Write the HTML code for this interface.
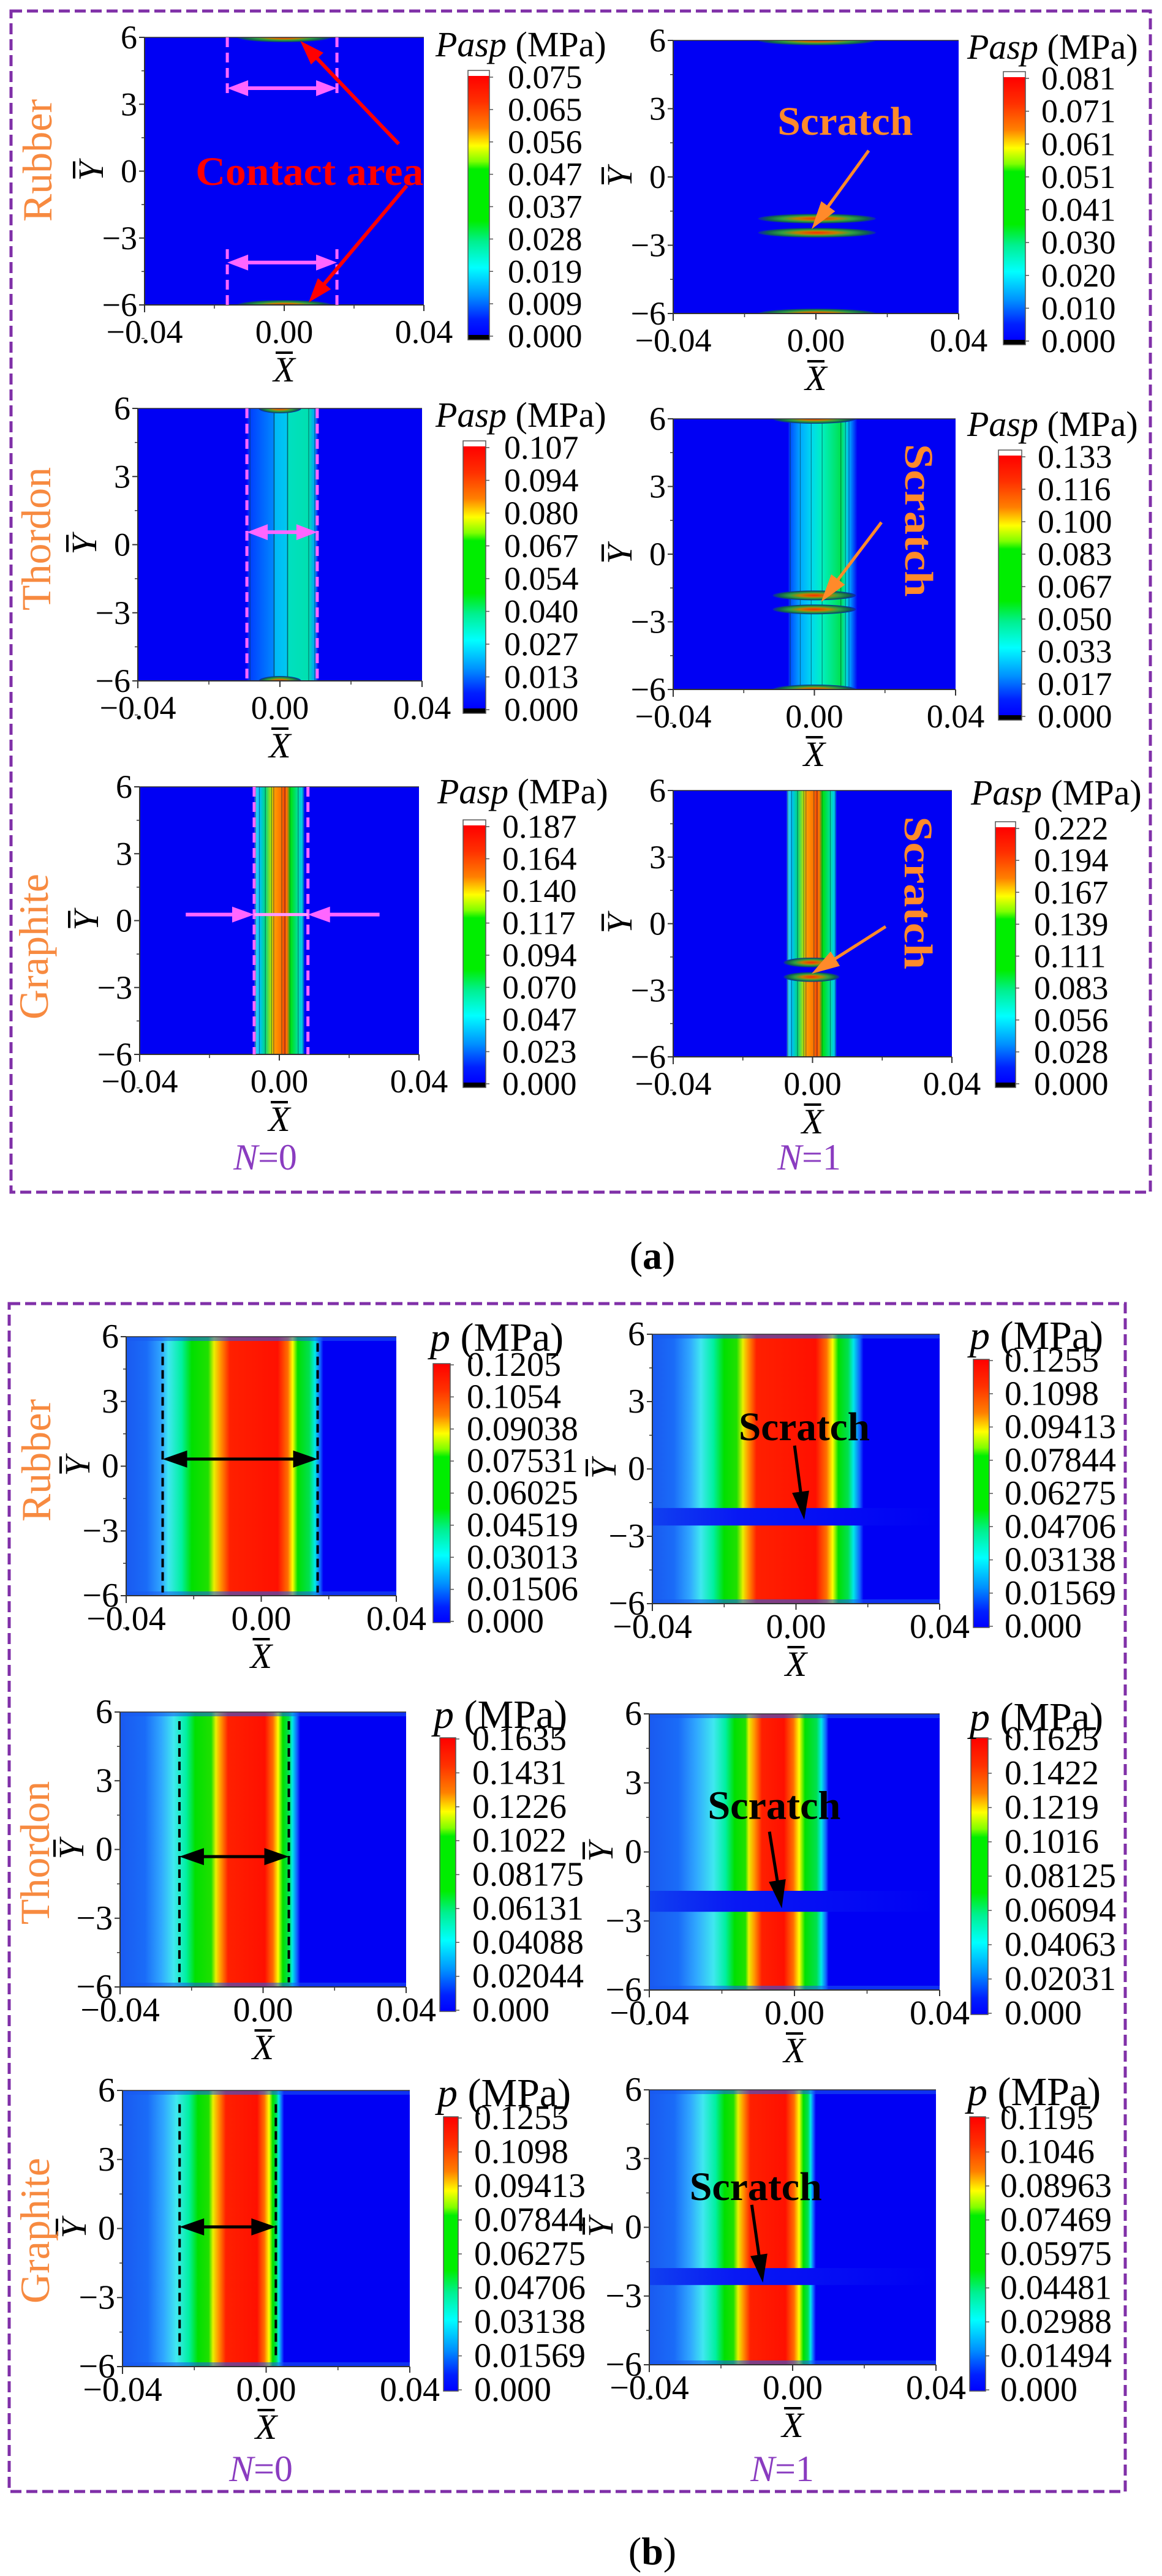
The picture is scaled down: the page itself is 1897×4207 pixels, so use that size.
<!DOCTYPE html>
<html><head><meta charset="utf-8"><title>Pasp and p contour comparison</title>
<style>
html,body{margin:0;padding:0;background:#fff;}
svg{display:block;font-family:"Liberation Serif","Times New Roman",Times,serif;}
svg text{font-family:"Liberation Serif","Times New Roman",Times,serif;}
</style></head>
<body>
<svg id="fig" xmlns="http://www.w3.org/2000/svg" width="1897" height="4207" viewBox="0 0 1897 4207" font-family="Liberation Serif, Times New Roman, serif">
<defs id="defs">
<radialGradient id="ellG" cx="0.5" cy="0.5" r="0.5">
<stop offset="0" stop-color="#ff2a00"/><stop offset="0.35" stop-color="#c08000"/><stop offset="0.6" stop-color="#30a040"/><stop offset="0.85" stop-color="#106050"/><stop offset="1" stop-color="#0a20c0"/>
</radialGradient>
<linearGradient id="jetA" x1="0" y1="0" x2="0" y2="1">
<stop offset="0" stop-color="#ff0000"/><stop offset="0.1" stop-color="#ff3000"/><stop offset="0.2" stop-color="#ff8000"/><stop offset="0.27" stop-color="#ffff00"/><stop offset="0.33" stop-color="#80ff00"/><stop offset="0.36" stop-color="#00ee00"/><stop offset="0.56" stop-color="#00ee00"/><stop offset="0.64" stop-color="#00f090"/><stop offset="0.74" stop-color="#00ffff"/><stop offset="0.85" stop-color="#0090ff"/><stop offset="0.94" stop-color="#0020ff"/><stop offset="1" stop-color="#0000ff"/>
</linearGradient>
<linearGradient id="gapG" x1="0" y1="0" x2="1" y2="0">
<stop offset="0" stop-color="#1040f0"/><stop offset="0.3" stop-color="#0818f4"/><stop offset="1" stop-color="#0000f4"/>
</linearGradient>
</defs>
</svg>
<script>
// ---------- data ----------
const xTickValues = [-0.04, 0, 0.04];
const xTickLabels = ['\u22120.04', '0.00', '0.04'];
const yTickValues = [6, 3, 0, -3, -6];
const yTickLabels = ['6', '3', '0', '\u22123', '\u22126'];

const cbA1L = ['0.075','0.065','0.056','0.047','0.037','0.028','0.019','0.009','0.000'];
const cbA1R = ['0.081','0.071','0.061','0.051','0.041','0.030','0.020','0.010','0.000'];
const cbA2L = ['0.107','0.094','0.080','0.067','0.054','0.040','0.027','0.013','0.000'];
const cbA2R = ['0.133','0.116','0.100','0.083','0.067','0.050','0.033','0.017','0.000'];
const cbA3L = ['0.187','0.164','0.140','0.117','0.094','0.070','0.047','0.023','0.000'];
const cbA3R = ['0.222','0.194','0.167','0.139','0.111','0.083','0.056','0.028','0.000'];
const cbB1L = ['0.1205','0.1054','0.09038','0.07531','0.06025','0.04519','0.03013','0.01506','0.000'];
const cbB1R = ['0.1255','0.1098','0.09413','0.07844','0.06275','0.04706','0.03138','0.01569','0.000'];
const cbB2L = ['0.1635','0.1431','0.1226','0.1022','0.08175','0.06131','0.04088','0.02044','0.000'];
const cbB2R = ['0.1625','0.1422','0.1219','0.1016','0.08125','0.06094','0.04063','0.02031','0.000'];
const cbB3L = ['0.1255','0.1098','0.09413','0.07844','0.06275','0.04706','0.03138','0.01569','0.000'];
const cbB3R = ['0.1195','0.1046','0.08963','0.07469','0.05975','0.04481','0.02988','0.01494','0.000'];

const bandA2L = [-0.0095,-0.0084,-0.0017,-0.0016,0.0021,0.0022,0.0081,0.0098,0.0108];
const bandA2R = [-0.0075,-0.0068,-0.004,-0.0009,0.0022,0.0075,0.0088,0.0098,0.0122];
const bandA3L = [-0.0072,-0.0068,-0.0057,-0.004,-0.0022,-0.0016,0.0007,0.0016,0.0025,0.003,0.0054,0.0068,0.0072];
const bandA3R = [-0.0075,-0.0071,-0.006,-0.0043,-0.0025,-0.0019,0.0004,0.0013,0.0022,0.0027,0.0051,0.0065,0.0069];
const profB1L = [-0.04,-0.0339,-0.0295,-0.0275,-0.0236,-0.0206,-0.0157,-0.014,-0.0123,-0.0093,0.0049,0.0079,0.0093,0.0108,0.0142,0.0159,0.0175,0.0184];
const profB1R = [-0.04,-0.034,-0.0295,-0.0265,-0.023,-0.02,-0.0165,-0.0148,-0.0135,-0.011,0.0055,0.0085,0.0102,0.0118,0.0145,0.016,0.0178,0.0188];
const profB2L = [-0.04,-0.033,-0.0285,-0.025,-0.0215,-0.019,-0.0145,-0.0132,-0.012,-0.0098,0.0005,0.0028,0.0042,0.0055,0.0072,0.0082,0.0095,0.0104];
const profB2R = [-0.04,-0.032,-0.027,-0.0223,-0.019,-0.0165,-0.0135,-0.0126,-0.0112,-0.009,-0.0029,-0.0003,0.0013,0.0029,0.0061,0.0074,0.0087,0.0094];
const profB3L = [-0.04,-0.033,-0.0285,-0.025,-0.0215,-0.019,-0.016,-0.0148,-0.0135,-0.0112,-0.0025,-0.0005,0.0008,0.0018,0.0028,0.0035,0.0043,0.005];
const profB3R = [-0.04,-0.033,-0.0285,-0.025,-0.0215,-0.019,-0.0165,-0.0152,-0.014,-0.0118,-0.002,0.0004,0.0018,0.003,0.0043,0.005,0.0058,0.0065];

const gapB1R = [-1.74, -2.52];
const gapB2R = [-1.69, -2.6];
const gapB3R = [-1.78, -2.52];
const gapA3R = [-1.75, -2.4];
const ellA1L = [[0, 6], [0, -6]];
const ellA1R = [[0.0003, 6], [0.0003, -1.83], [0.0003, -2.45], [0.0003, -6]];
const ellA2L = [[0, 6], [0, -6]];
const ellA2R = [[0, 6], [0, -1.83], [0, -2.45], [0, -6]];
const ellA3R = [[-0.0003, -1.75], [-0.0003, -2.4]];

const colA2L = ['#0000f4','#0040ff','#0088ff','#00b8f8','#00c8f0','#00e0c0','#00e0b0','#00a0ff','#0000f4'];
const colA2R = ['#0000f4','#0050ff','#00a8ff','#00d8f0','#00f0c0','#00e050','#00e0c0','#00b0ff','#0000f4'];
const colA3 = ['#0000f4','#40d0f0','#00c0ff','#00d880','#c0e000','#ffa000','#ff7000','#ff4000','#ffa000','#00e000','#00e0a0','#00c0ff','#0000f4'];
const colB = ['#1a5af0','#1a6cf8','#30a8ff','#40e8f0','#00f0a0','#00e000','#20e000','#e8f000','#ffa000','#ff2000','#ff1000','#ff7000','#ffff00','#00e000','#00e050','#00e8e8','#1060ff','#0000f4'];

const NS = 'http://www.w3.org/2000/svg';
const svg = document.getElementById('fig');
const defs = document.getElementById('defs');
const FONT = "Liberation Serif, Times New Roman, serif";
function el(tag, attrs, parent) {
  const e = document.createElementNS(NS, tag);
  for (const k in attrs) e.setAttribute(k, attrs[k]);
  if (tag === 'text') e.setAttribute('font-family', FONT);
  (parent || svg).appendChild(e);
  return e;
}
function arrowHead(g, x1, y1, x2, y2, color, len, wid) {
  const dx = x2 - x1, dy = y2 - y1, L = Math.hypot(dx, dy), ux = dx / L, uy = dy / L;
  const bx = x2 - ux * len, by = y2 - uy * len;
  return el('polygon', {points: `${x2},${y2} ${bx - uy * wid},${by + ux * wid} ${bx + uy * wid},${by - ux * wid}`, fill: color}, g);
}
function arrow(g, x1, y1, x2, y2, color, sw, len, wid, both) {
  const dx = x2 - x1, dy = y2 - y1, L = Math.hypot(dx, dy), ux = dx / L, uy = dy / L;
  const sx = both ? x1 + ux * len * 0.8 : x1, sy = both ? y1 + uy * len * 0.8 : y1;
  el('line', {x1: sx, y1: sy, x2: x2 - ux * len * 0.8, y2: y2 - uy * len * 0.8, stroke: color, 'stroke-width': sw}, g);
  arrowHead(g, x1, y1, x2, y2, color, len, wid);
  if (both) arrowHead(g, x2, y2, x1, y1, color, len, wid);
}

const panels = [
 {key:'a-rubber-n0', part:'a', px:236, py:61, pw:456, ph:437, cb:[764,115,35,440], lx:829, tx:711, ty:92, labels:cbA1L, ell:ellA1L, erx:0.0135},
 {key:'a-rubber-n1', part:'a', px:1099, py:66, pw:466, ph:446, cb:[1638,117,36,446], lx:1700, tx:1579, ty:96, labels:cbA1R, ell:ellA1R, erx:0.0165},
 {key:'a-thordon-n0', part:'a', px:225, py:667, pw:464, ph:445, cb:[756,720,37,445], lx:823, tx:711, ty:697, labels:cbA2L, band:bandA2L, bcol:colA2L, ell:ellA2L, erx:0.006},
 {key:'a-thordon-n1', part:'a', px:1099, py:684, pw:461, ph:442, cb:[1630,735,38,441], lx:1694, tx:1579, ty:712, labels:cbA2R, band:bandA2R, bcol:colA2R, ell:ellA2R, erx:0.0118},
 {key:'a-graphite-n0', part:'a', px:228, py:1285, pw:456, ph:437, cb:[756,1339,37,437], lx:820, tx:714, ty:1312, labels:cbA3L, band:bandA3L, bcol:colA3},
 {key:'a-graphite-n1', part:'a', px:1099, py:1291, pw:455, ph:435, cb:[1625,1342,33,434], lx:1688, tx:1585, ty:1314, labels:cbA3R, band:bandA3R, bcol:colA3, gap:gapA3R, ell:ellA3R, erx:0.008},
 {key:'b-rubber-n0', part:'b', px:206, py:2183, pw:441, ph:423, cb:[707,2227,28,423], lx:762, tx:702, ty:2206, labels:cbB1L, prof:profB1L},
 {key:'b-rubber-n1', part:'b', px:1065, py:2179, pw:469, ph:440, cb:[1589,2220,26,438], lx:1640, tx:1583, ty:2203, labels:cbB1R, prof:profB1R, gap:gapB1R},
 {key:'b-thordon-n0', part:'b', px:196, py:2796, pw:467, ph:449, cb:[718,2838,26,447], lx:771, tx:708, ty:2822, labels:cbB2L, prof:profB2L},
 {key:'b-thordon-n1', part:'b', px:1060, py:2799, pw:474, ph:451, cb:[1585,2838,28,452], lx:1640, tx:1583, ty:2826, labels:cbB2R, prof:profB2R, gap:gapB2R},
 {key:'b-graphite-n0', part:'b', px:200, py:3414, pw:469, ph:451, cb:[724,3457,24,448], lx:774, tx:714, ty:3440, labels:cbB3L, prof:profB3L},
 {key:'b-graphite-n1', part:'b', px:1060, py:3413, pw:468, ph:449, cb:[1583,3457,26,448], lx:1633, tx:1579, ty:3438, labels:cbB3R, prof:profB3R, gap:gapB3R}
];

const notes = {
 'a-rubber-n0': {pink:[-0.0163,0.0151], pinkSeg:[[6,3.4],[-3.5,-6]], pinkArrowY:[3.72,-4.1], red:[[0.0328,1.22,0.0046,5.84],[0.0351,-0.65,0.007,-5.89]], contact:[-0.0254,-0.02]},
 'a-rubber-n1': {scratch:{x:0.0082,y:1.86,rot:0,color:'#ff8a2a',w:221}, sarrow:[0.0148,1.16,-0.0012,-2.29]},
 'a-thordon-n0': {pink:[-0.0093,0.0105], pinkSeg:[[6,-6]], pinkArrowY:[0.55]},
 'a-thordon-n1': {scratch:{x:0.0258,y:1.5,rot:90,color:'#ff8a2a',w:250}, sarrow:[0.019,1.41,0.0019,-2.12]},
 'a-graphite-n0': {pink:[-0.0072,0.0082], pinkSeg:[[6,-6]], pinkIn:[0.27,-0.0268,0.0287]},
 'a-graphite-n1': {scratch:{x:0.0265,y:1.39,rot:90,color:'#ff8a2a',w:250}, sarrow:[0.021,-0.13,-0.0003,-2.26]},
 'b-rubber-n0': {dash:[-0.0292,0.0167], dashY:[5.7,-5.85], arrY:0.33},
 'b-rubber-n1': {scratch:{x:0.0023,y:1.28,rot:0,color:'#000',w:214}, sarrow:[-0.0004,1.04,0.0023,-2.26]},
 'b-thordon-n0': {dash:[-0.0234,0.0072], dashY:[5.6,-5.8], arrY:-0.31},
 'b-thordon-n1': {scratch:{x:-0.0056,y:1.44,rot:0,color:'#000',w:217}, sarrow:[-0.0069,0.88,-0.0035,-2.45]},
 'b-graphite-n0': {dash:[-0.0241,0.0027], dashY:[5.4,-5.6], arrY:0.07},
 'b-graphite-n1': {scratch:{x:-0.0103,y:1.19,rot:0,color:'#000',w:216}, sarrow:[-0.0114,0.98,-0.0083,-2.42]}
};

panels.forEach((P, i) => {
  const xs = X => P.px + (X + 0.04) / 0.08 * P.pw;
  const ys = Y => P.py + (6 - Y) / 12 * P.ph;
  const g = el('g', {});
  
  
  const clip = el('clipPath', {id: 'clip' + i}, defs);
  el('rect', {x: P.px, y: P.py, width: P.pw, height: P.ph}, clip);
  const field = el('g', {'clip-path': `url(#clip${i})`}, g);
  
  

  if (P.part === 'a') {
    el('rect', {x: P.px, y: P.py, width: P.pw, height: P.ph, fill: '#0000f4'}, field);
    if (P.band) {
      const lg = el('linearGradient', {id: 'band' + i, gradientUnits: 'userSpaceOnUse', x1: P.px, y1: 0, x2: P.px + P.pw, y2: 0}, defs);
      P.band.forEach((X, k) => el('stop', {offset: (X + 0.04) / 0.08, 'stop-color': P.bcol[k]}, lg));
      const b = el('rect', {x: xs(P.band[0]), y: P.py, width: xs(P.band[P.band.length - 1]) - xs(P.band[0]), height: P.ph, fill: `url(#band${i})`}, field);
      
      
      P.band.slice(1, -1).forEach(X => el('line', {x1: xs(X), y1: P.py, x2: xs(X), y2: P.py + P.ph, stroke: '#0a3040', 'stroke-width': 1.2, 'stroke-opacity': 0.55}, field));
    }
    if (P.gap) {
      const r = el('rect', {x: P.px, y: ys(P.gap[0]), width: P.pw, height: ys(P.gap[1]) - ys(P.gap[0]), fill: '#0000f4'}, field);
      
      
    }
    (P.ell || []).forEach(e => {
      const o = el('ellipse', {cx: xs(e[0]), cy: ys(e[1]), rx: (P.erx || 0.012) / 0.08 * P.pw, ry: 8, fill: 'url(#ellG)'}, field);
      
      
    });
  } else {
    const lg = el('linearGradient', {id: 'prof' + i, gradientUnits: 'userSpaceOnUse', x1: P.px, y1: 0, x2: P.px + P.pw, y2: 0}, defs);
    P.prof.forEach((X, k) => el('stop', {offset: (X + 0.04) / 0.08, 'stop-color': colB[k]}, lg));
    el('rect', {x: P.px, y: P.py, width: P.pw, height: P.ph, fill: '#0000f4'}, field);
    const b = el('rect', {x: P.px, y: P.py, width: P.pw, height: P.ph, fill: `url(#prof${i})`}, field);
    
    
    el('rect', {x: P.px, y: P.py, width: P.pw, height: 7, fill: '#1a5af0', 'fill-opacity': 0.55}, field);
    el('rect', {x: P.px, y: P.py + P.ph - 7, width: P.pw, height: 7, fill: '#1a5af0', 'fill-opacity': 0.55}, field);
    if (P.gap) {
      const r = el('rect', {x: P.px, y: ys(P.gap[0]), width: P.pw, height: ys(P.gap[1]) - ys(P.gap[0]), fill: 'url(#gapG)'}, field);
      
      
    }
  }

  el('line', {x1: P.px, y1: P.py, x2: P.px, y2: P.py + P.ph + 12, stroke: '#333', 'stroke-width': 2}, g);
  el('line', {x1: P.px, y1: P.py + P.ph, x2: P.px + P.pw, y2: P.py + P.ph, stroke: '#333', 'stroke-width': 2}, g);
  el('line', {x1: P.px, y1: P.py, x2: P.px + P.pw, y2: P.py, stroke: '#333', 'stroke-width': 1.5}, g);
  const fs = P.part === 'a' ? 54 : 56;
  yTickValues.forEach((v, k) => {
    el('line', {x1: P.px - 9, y1: ys(v), x2: P.px, y2: ys(v), stroke: '#333', 'stroke-width': 2}, g);
    el('line', {x1: P.px - 5, y1: ys(v - 1.5), x2: P.px, y2: ys(v - 1.5), stroke: '#333', 'stroke-width': 1.5}, g);
    const t = el('text', {x: P.px - 12, y: ys(v) + 18, 'font-size': fs, 'text-anchor': 'end'}, g);
    
    
    t.textContent = yTickLabels[k];
  });
  xTickValues.forEach((v, k) => {
    el('line', {x1: xs(v), y1: P.py + P.ph, x2: xs(v), y2: P.py + P.ph + 10, stroke: '#333', 'stroke-width': 2}, g);
    if (k < 2) el('line', {x1: xs(v + 0.02), y1: P.py + P.ph, x2: xs(v + 0.02), y2: P.py + P.ph + 6, stroke: '#333', 'stroke-width': 1.5}, g);
    const t = el('text', {x: xs(v), y: P.py + P.ph + (P.part === 'a' ? 62 : 56), 'font-size': fs, 'text-anchor': 'middle'}, g);
    
    
    t.textContent = xTickLabels[k];
  });
  const xl = el('g', {}, g);
  
  
  const xb = P.py + P.ph + (P.part === 'a' ? 125 : 118);
  const xt = el('text', {x: xs(0), y: xb, 'font-size': 58, 'font-style': 'italic', 'text-anchor': 'middle'}, xl);
  xt.textContent = 'X';
  el('line', {x1: xs(0) - 14, y1: xb - 47, x2: xs(0) + 14, y2: xb - 47, stroke: '#000', 'stroke-width': 4}, xl);
  const yl = el('g', {transform: `translate(${P.px - (P.part === 'a' ? 86 : 78)},${ys(0)}) rotate(-90)`}, g);
  
  
  const yt = el('text', {x: 0, y: 18, 'font-size': 58, 'font-style': 'italic', 'text-anchor': 'middle'}, yl);
  yt.textContent = 'Y';
  el('line', {x1: -12, y1: -29, x2: 16, y2: -29, stroke: '#000', 'stroke-width': 4}, yl);

  const [cx, cy, cw, ch] = P.cb;
  const cbg = el('g', {}, g);
  
  
  const capT = P.part === 'a' ? 9 : 0, capB = P.part === 'a' ? 8 : 0;
  el('rect', {x: cx, y: cy + capT, width: cw, height: ch - capT - capB, fill: 'url(#jetA)'}, cbg);
  if (P.part === 'a') {
    el('rect', {x: cx, y: cy, width: cw, height: capT, fill: '#fff'}, cbg);
    el('rect', {x: cx, y: cy + ch - capB, width: cw, height: capB, fill: '#000'}, cbg);
  }
  el('rect', {x: cx, y: cy, width: cw, height: ch, fill: 'none', stroke: '#555', 'stroke-width': 1.5}, cbg);
  const top = cy + capT + 2, bot = cy + ch - capB / 2 - 2;
  P.labels.forEach((lab, k) => {
    const yy = top + (bot - top) * k / (P.labels.length - 1);
    el('line', {x1: cx + cw, y1: yy, x2: cx + cw + 6, y2: yy, stroke: '#555', 'stroke-width': 1.5}, cbg);
    const t = el('text', {x: P.lx, y: yy + 18, 'font-size': fs}, cbg);
    
    
    t.textContent = lab;
  });
  const title = el('text', {x: P.tx, y: P.ty, 'font-size': P.part === 'a' ? 58 : 66}, cbg);
  
  
  const ti = el('tspan', {'font-style': 'italic'}, title);
  ti.textContent = P.part === 'a' ? 'Pasp' : 'p';
  const tr = el('tspan', {}, title);
  tr.textContent = ' (MPa)';

  const N = notes[P.key];
  const an = el('g', {}, g);
  
  
  if (N.pink) {
    N.pink.forEach(X => N.pinkSeg.forEach(s => el('line', {x1: xs(X), y1: ys(s[0]), x2: xs(X), y2: ys(s[1]), stroke: '#ff66ff', 'stroke-width': 5, 'stroke-dasharray': '16 9'}, an)));
    (N.pinkArrowY || []).forEach(Y => arrow(an, xs(N.pink[0]), ys(Y), xs(N.pink[1]), ys(Y), '#ff66ff', 6, 34, 13, true));
    if (N.pinkIn) {
      const Y = N.pinkIn[0];
      arrow(an, xs(N.pinkIn[1]), ys(Y), xs(N.pink[0]), ys(Y), '#ff66ff', 6, 36, 13, false);
      arrow(an, xs(N.pinkIn[2]), ys(Y), xs(N.pink[1]), ys(Y), '#ff66ff', 6, 36, 13, false);
      el('line', {x1: xs(N.pink[0]), y1: ys(Y), x2: xs(N.pink[1]), y2: ys(Y), stroke: '#ff99ff', 'stroke-width': 5}, an);
    }
  }
  if (N.red) N.red.forEach(r => arrow(an, xs(r[0]), ys(r[1]), xs(r[2]), ys(r[3]), '#ff0000', 6, 40, 14, false));
  if (N.contact) {
    const t = el('text', {x: xs(N.contact[0]), y: ys(N.contact[1]) + 22, 'font-size': 66, 'font-weight': 'bold', fill: '#ff0000', textLength: 372, lengthAdjust: 'spacingAndGlyphs'}, an);
    
    
    t.textContent = 'Contact area';
  }
  if (N.dash) {
    N.dash.forEach(X => el('line', {x1: xs(X), y1: ys(N.dashY[0]), x2: xs(X), y2: ys(N.dashY[1]), stroke: '#000', 'stroke-width': 4, 'stroke-dasharray': '14 8'}, an));
    arrow(an, xs(N.dash[0]), ys(N.arrY), xs(N.dash[1]), ys(N.arrY), '#000', 5, 40, 14, true);
  }
  if (N.scratch) {
    const S = N.scratch;
    const sx = xs(S.x), sy = ys(S.y);
    const t = el('text', {x: sx, y: sy, 'font-size': 66, 'font-weight': 'bold', fill: S.color, 'text-anchor': 'middle', textLength: S.w, lengthAdjust: 'spacingAndGlyphs', transform: S.rot ? `rotate(90 ${sx} ${sy})` : ''}, an);
    
    
    t.textContent = 'Scratch';
    const a = N.sarrow;
    arrow(an, xs(a[0]), ys(a[1]), xs(a[2]), ys(a[3]), S.color === '#000' ? '#000' : '#ff8a2a', 5, 46, 14, false);
  }
});

function label(txt, x, y, opts) {
  const t = el('text', Object.assign({x: x, y: y}, opts));
  t.textContent = txt;
  return t;
}
const boxA = el('rect', {x: 18, y: 18, width: 1860, height: 1929, fill: 'none', stroke: '#8030a8', 'stroke-width': 5, 'stroke-dasharray': '18 8'});


const boxB = el('rect', {x: 15, y: 2129, width: 1822, height: 1940, fill: 'none', stroke: '#8030a8', 'stroke-width': 5, 'stroke-dasharray': '18 8'});



const mats = [['Rubber', 62, 262], ['Thordon', 60, 880], ['Graphite', 56, 1546], ['Rubber', 60, 2385], ['Thordon', 58, 3026], ['Graphite', 58, 3643]];
mats.forEach(m => {
  const t = label(m[0], m[1], m[2], {'font-size': 68, fill: '#f78a40', 'text-anchor': 'middle', transform: `rotate(-90 ${m[1]} ${m[2]})`, dy: 22});
  
  
});
const nlabs = [['0', 433, 1910], ['1', 1321, 1910], ['0', 426, 4052], ['1', 1277, 4052]];
nlabs.forEach(n => {
  const t = label('', n[1], n[2], {'font-size': 60, fill: '#8a3cc0', 'text-anchor': 'middle'});
  
  
  const a = el('tspan', {'font-style': 'italic'}, t); a.textContent = 'N';
  const b = el('tspan', {}, t); b.textContent = '=' + n[0];
});
[['a', 2072], ['b', 4188]].forEach(c => {
  const t = label('', 1065, c[1], {'font-size': 64, 'text-anchor': 'middle'});
  
  
  const p1 = el('tspan', {}, t); p1.textContent = '(';
  const p2 = el('tspan', {'font-weight': 'bold'}, t); p2.textContent = c[0];
  const p3 = el('tspan', {}, t); p3.textContent = ')';
});
</script>
</body></html>
